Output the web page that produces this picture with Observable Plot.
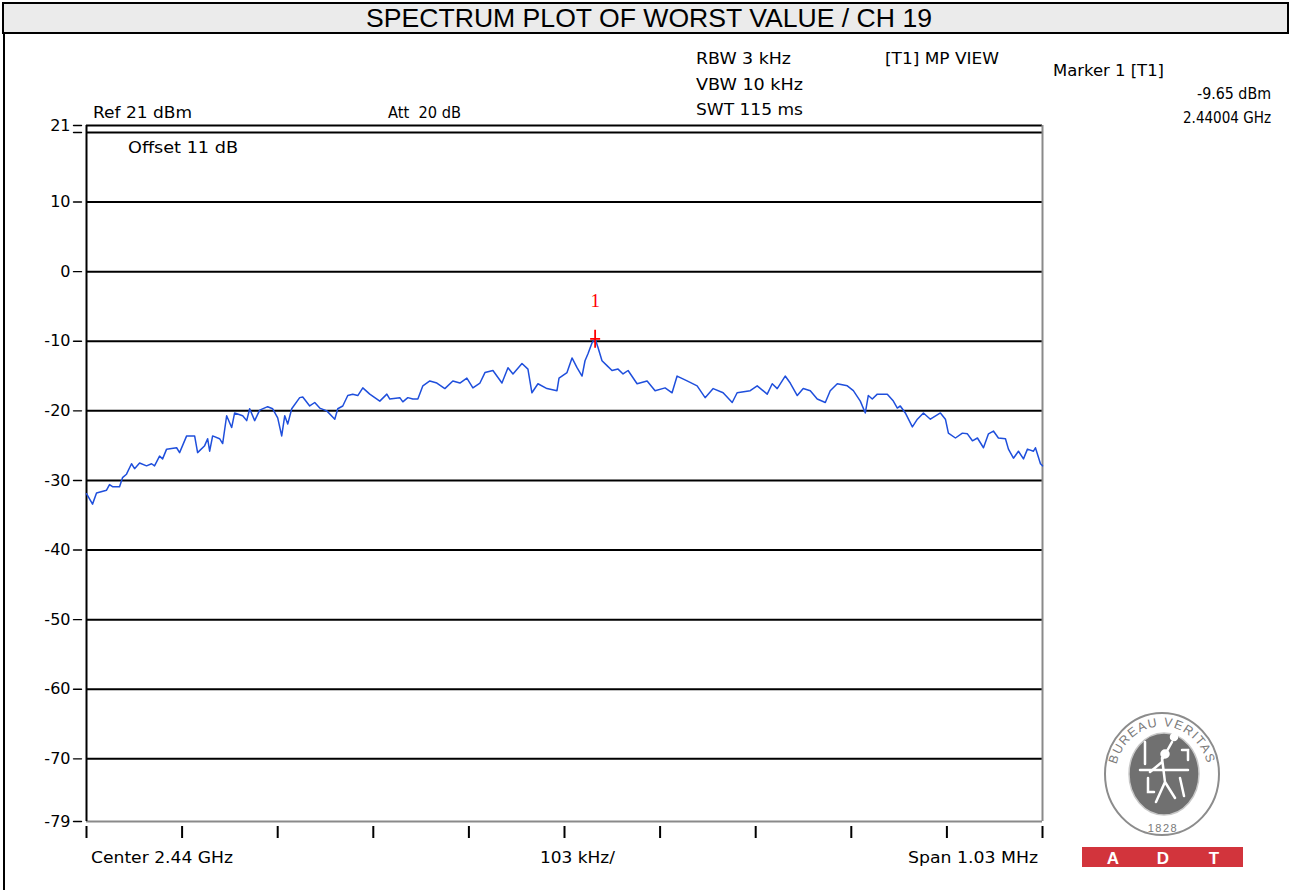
<!DOCTYPE html>
<html><head><meta charset="utf-8">
<script src="https://cdn.jsdelivr.net/npm/d3@7"></script>
<script src="https://cdn.jsdelivr.net/npm/@observablehq/plot@0.6"></script>
<style>
body{margin:0;background:#fff;}
#page{position:relative;width:1291px;height:890px;overflow:hidden;}
#chart{position:absolute;left:0;top:0;}
</style></head><body>
<div id="page"><div id="chart"></div></div>
<script>
// ---- data ----
const freqKHz = [-515,-508.5,-504.2,-493.4,-490.2,-487.0,-479.4,-476.2,-471.9,-466.5,-463.2,-457.8,-450.3,-444.9,-441.7,-436.3,-433.0,-428.7,-417.9,-414.7,
-407.1,-398.5,-395.3,-387.7,-384.5,-382.3,-379.1,-371.6,-368.3,-364.0,-358.6,-355.4,-346.7,-342.4,-339.2,-333.8,-328.4,-319.8,-314.4,-309.0,
-304.7,-301.4,-298.2,-293.9,-285.3,-282.0,-274.5,-269.1,-263.7,-256.1,-247.5,-244.3,-238.9,-233.5,-228.1,-222.7,-217.3,-209.8,-204.4,-199.0,
-191.4,-188.2,-177.4,-174.2,-168.8,-163.4,-158.0,-152.6,-145.1,-137.5,-128.9,-120.3,-112.7,-105.2,-98.7,-91.1,-85.7,-77.1,-67.4,-60.9,
-55.5,-45.8,-39.4,-35.1,-28.6,-18.9,-8.1,-5.9,2.7,8.1,13.5,18.9,22.1,25.3,29.7,33.0,36.1,40.4,45.8,51.2,
57.7,63.1,68.5,78.2,89.0,97.6,108.4,115.9,121.3,132.1,142.9,151.5,160.2,170.9,180.7,186.0,200.1,207.6,218.4,223.8,
229.2,237.8,243.2,250.8,257.2,264.8,272.3,281.0,286.3,293.9,304.7,311.2,318.7,324.1,327.3,331.6,337.0,347.8,354.3,358.6,
361.8,367.2,374.8,380.2,386.7,394.2,405.0,410.4,413.6,421.2,428.7,434.1,439.5,444.9,451.4,456.8,462.1,467.5,475.1,478.3,
483.7,489.1,494.5,498.8,505.3,507.4,512.8,515];
const levelDbm = [-31.9,-33.4,-31.8,-31.4,-30.6,-30.9,-30.9,-29.6,-29.1,-27.6,-28.3,-27.5,-27.9,-27.6,-27.9,-26.5,-26.9,-25.5,-25.3,-26.0,
-23.6,-23.6,-26.0,-25.0,-24.0,-25.8,-23.6,-24.0,-24.7,-20.7,-22.4,-20.3,-20.7,-21.4,-19.7,-21.4,-19.9,-19.4,-19.7,-21.0,
-23.6,-20.7,-21.9,-19.7,-18.1,-18.0,-19.3,-18.8,-19.6,-20.0,-21.2,-19.7,-19.3,-17.8,-17.6,-17.8,-16.7,-17.6,-18.1,-18.6,
-17.6,-18.3,-18.1,-18.7,-18.1,-18.3,-18.3,-16.4,-15.7,-16.0,-16.8,-15.7,-16.0,-15.3,-16.7,-16.0,-14.5,-14.2,-16.0,-13.8,
-14.7,-13.2,-14.0,-17.4,-16.1,-16.8,-17.1,-15.3,-14.5,-12.4,-13.8,-15.0,-12.8,-11.8,-10.2,-9.65,-10.9,-12.8,-13.5,-14.2,
-14.0,-14.7,-14.2,-16.1,-15.7,-17.1,-16.7,-17.4,-15.0,-15.7,-16.4,-18.1,-16.8,-17.4,-18.8,-17.4,-17.1,-16.4,-17.6,-16.1,
-16.8,-15.0,-16.0,-17.8,-16.8,-17.1,-18.3,-18.8,-17.1,-16.1,-16.4,-17.1,-18.6,-20.3,-17.8,-18.3,-17.6,-17.6,-18.6,-19.6,
-19.3,-20.3,-22.3,-21.2,-20.3,-21.2,-20.3,-21.2,-23.2,-23.9,-23.2,-23.3,-24.3,-23.9,-25.3,-23.3,-22.9,-23.9,-24.0,-25.5,
-26.8,-25.8,-26.9,-25.5,-25.8,-25.3,-27.6,-27.9];
const yTickValues = [21, 10, 0, -10, -20, -30, -40, -50, -60, -70, -79];
const yTickMarks = [21, 20, 10, 0, -10, -20, -30, -40, -50, -60, -70, -79];
const gridValues = [20, 10, 0, -10, -20, -30, -40, -50, -60, -70];
const xTickValues = [-515, -412, -309, -206, -103, 0, 103, 206, 309, 412, 515];
const markerLabel = ["1"];
const titleText = "SPECTRUM PLOT OF WORST VALUE / CH 19";
const settingsLeft = ["RBW 3 kHz", "VBW 10 kHz", "SWT 115 ms"];
const markerInfo = ["Marker 1 [T1]", "-9.65 dBm", "2.44004 GHz"];

const trace = freqKHz.map((f, i) => ({f, db: levelDbm[i]}));
const peak = trace.reduce((a, b) => (b.db > a.db ? b : a));

const markerCross = {
  draw(ctx) { ctx.moveTo(0, -9); ctx.lineTo(0, 9); ctx.moveTo(-5, 0); ctx.lineTo(5, 0); }
};
const tickShape = {
  draw(ctx, l) { ctx.moveTo(0, 0); ctx.lineTo(0, -l); }
};

const FONT = "'DejaVu Sans', Verdana, sans-serif";
const TFONT = "'Liberation Sans', Arial, sans-serif";

const chart = Plot.plot({
  width: 1291,
  height: 890,
  marginLeft: 86,
  marginRight: 249,
  marginTop: 125,
  marginBottom: 69,
  style: {fontFamily: FONT, fontSize: "16px", color: "#000", background: "transparent", overflow: "visible"},
  x: {domain: [-515, 515]},
  y: {domain: [-79, 21]},
  marks: [
    Plot.ruleY(gridValues, {stroke: "#000", strokeWidth: 2}),
    Plot.ruleY([-79], {stroke: "#8a8a8a", strokeWidth: 2}),
    Plot.ruleY([21], {stroke: "#000", strokeWidth: 2}),
    Plot.ruleX([515], {stroke: "#8a8a8a", strokeWidth: 2}),
    Plot.ruleX([-515], {stroke: "#000", strokeWidth: 2}),
    // y tick marks standing slightly apart from the frame
    Plot.vector(yTickMarks, {y: d => d, frameAnchor: "left", length: 8, rotate: -90, anchor: "start",
      shape: tickShape, dx: -5, stroke: "#000", strokeWidth: 1.4}),
    Plot.axisY({ticks: yTickValues, tickSize: 0, tickPadding: 16, tickFormat: d => String(d), label: null, fontSize: 16}),
    Plot.axisX({ticks: xTickValues, tickSize: 12, tickFormat: () => "", label: null, strokeWidth: 2, dy: 5}),
    Plot.line(trace, {x: "f", y: "db", stroke: "#1f4fdc", strokeWidth: 1.5}),
    Plot.dot([peak], {x: "f", y: "db", symbol: markerCross, r: 6, fill: "none", stroke: "#ff0000", strokeWidth: 1.8}),
    Plot.text([peak], {x: "f", y: "db", text: () => markerLabel[0], dy: -38, fill: "#ff0000", fontFamily: "'Liberation Serif', 'DejaVu Serif', serif", fontSize: 19})
  ]
});
document.getElementById("chart").appendChild(chart);

// ---- annotations (header, instrument settings, logo) ----
const svg = d3.select(chart);
const g = svg.append("g").attr("font-family", FONT).attr("fill", "#000");

// header bar
g.append("rect").attr("x", 3).attr("y", 3).attr("width", 1285).attr("height", 30)
  .attr("fill", "#ebebeb").attr("stroke", "#000").attr("stroke-width", 2);
g.append("line").attr("x1", 4).attr("x2", 4).attr("y1", 33).attr("y2", 890).attr("stroke", "#000").attr("stroke-width", 2);
g.append("text").attr("x", 649).attr("y", 27).attr("text-anchor", "middle").attr("font-family", TFONT).attr("font-size", 25)
  .attr("textLength", 566).attr("lengthAdjust", "spacingAndGlyphs").text(titleText);

function label(x, y, txt, len, anchor = "start") {
  const t = g.append("text").attr("x", x).attr("y", y).attr("text-anchor", anchor).attr("font-size", 16).text(txt);
  if (len) t.attr("textLength", len).attr("lengthAdjust", "spacingAndGlyphs");
  return t;
}
label(696, 64, settingsLeft[0], 95);
label(696, 90, settingsLeft[1], 107);
label(696, 115, settingsLeft[2], 107);
label(885, 64, "[T1] MP VIEW", 114);
label(1053, 76, markerInfo[0], 111);
label(1271, 99, markerInfo[1], 74, "end");
label(1271, 123, markerInfo[2], 88, "end");
label(93, 118, "Ref 21 dBm", 99);
label(388, 118, "Att  20 dB", 73);
label(128, 153, "Offset 11 dB", 110);
label(91, 863, "Center 2.44 GHz", 142);
label(540, 863, "103 kHz/", 75);
label(1038, 863, "Span 1.03 MHz", 130, "end");

// logo
const lg = svg.append("g");
lg.append("ellipse").attr("cx", 1162).attr("cy", 774).attr("rx", 57).attr("ry", 61)
  .attr("fill", "#fff").attr("stroke", "#8c8c8c").attr("stroke-width", 2);
lg.append("ellipse").attr("cx", 1164).attr("cy", 774).attr("rx", 35).attr("ry", 41)
  .attr("fill", "#707070").attr("stroke", "#c8c8c8").attr("stroke-width", 1.5);
lg.append("path").attr("id", "bvarc").attr("fill", "none")
  .attr("d", "M 1117,792 A 47,51 0 1,1 1207,792");
lg.append("text").attr("font-family", TFONT).attr("font-size", 12.5).attr("fill", "#7a7a7a").attr("letter-spacing", 1.4)
  .append("textPath").attr("href", "#bvarc").attr("startOffset", "50%").attr("text-anchor", "middle").text("BUREAU VERITAS");
lg.append("text").attr("x", 1163).attr("y", 832).attr("text-anchor", "middle").attr("font-family", TFONT)
  .attr("font-size", 11).attr("fill", "#7a7a7a").attr("letter-spacing", 1.5).text("1828");
// stylised figure inside the oval
const fig = lg.append("g").attr("stroke", "#fff").attr("stroke-width", 2.5).attr("fill", "none").attr("stroke-linecap", "round");
fig.append("path").attr("d", "M1140,770 L1188,770");
fig.append("path").attr("d", "M1162,758 L1165,782 L1156,802 M1165,782 L1175,798 M1162,760 L1172,742 M1162,762 L1150,772");
fig.append("circle").attr("cx", 1165).attr("cy", 754).attr("r", 3.5).attr("fill", "#fff");
fig.append("circle").attr("cx", 1174).attr("cy", 737).attr("r", 3).attr("fill", "#fff");
fig.append("path").attr("d", "M1145,742 L1145,764 M1148,778 L1148,792 L1154,792 M1180,778 L1184,796 M1182,750 L1188,750 L1188,760");
// ADT bar
lg.append("rect").attr("x", 1082).attr("y", 847).attr("width", 161).attr("height", 20).attr("fill", "#d2343c");
[["A", 1113], ["D", 1163], ["T", 1214]].forEach(([t, x]) => {
  lg.append("text").attr("x", x).attr("y", 864).attr("text-anchor", "middle").attr("font-family", TFONT)
    .attr("font-weight", "bold").attr("font-size", 17).attr("fill", "#fff").text(t);
});
</script>
</body></html>
